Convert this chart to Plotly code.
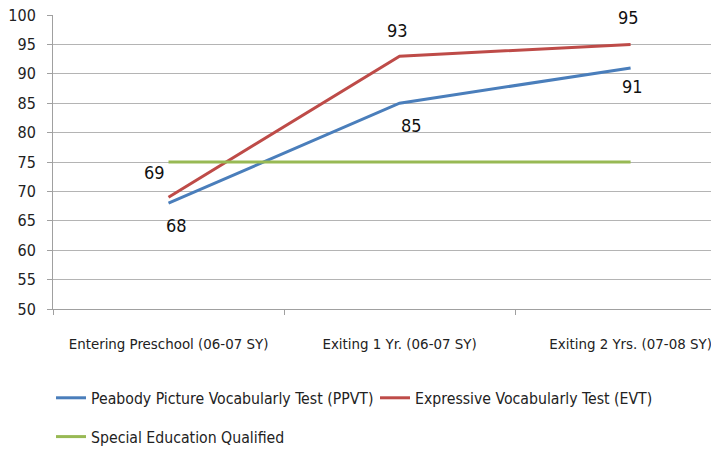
import plotly.graph_objects as go

categories = ["Entering Preschool (06-07 SY)", "Exiting 1 Yr. (06-07 SY)", "Exiting 2 Yrs. (07-08 SY)"]
ppvt = [68, 85, 91]
evt = [69, 93, 95]
sped = [75, 75, 75]

FONT = "DejaVu Sans Condensed, Liberation Sans Narrow, sans-serif"
BLUE = "#4A7EBB"
RED = "#BE4B48"
GREEN = "#98B954"

fig = go.Figure()
fig.add_trace(go.Scatter(x=categories, y=ppvt, mode="lines", name="Peabody Picture Vocabularly Test (PPVT)",
                         line=dict(color=BLUE, width=3), legend="legend"))
fig.add_trace(go.Scatter(x=categories, y=evt, mode="lines", name="Expressive Vocabularly Test (EVT)",
                         line=dict(color=RED, width=3), legend="legend"))
fig.add_trace(go.Scatter(x=categories, y=sped, mode="lines", name="Special Education Qualified",
                         line=dict(color=GREEN, width=3), legend="legend2"))

# label offsets (px) for data labels
evt_off = [(-14, 25), (-2, 26), (-2, 27)]
ppvt_off = [(8, -22), (12, -22), (2, -19)]
annotations = []
for cat, v, (dx, dy) in zip(categories, evt, evt_off):
    annotations.append(dict(x=cat, y=v, text=str(v), showarrow=False, xshift=dx, yshift=dy,
                            font=dict(family=FONT, size=18, color="#111111")))
for cat, v, (dx, dy) in zip(categories, ppvt, ppvt_off):
    annotations.append(dict(x=cat, y=v, text=str(v), showarrow=False, xshift=dx, yshift=dy,
                            font=dict(family=FONT, size=18, color="#111111")))

fig.update_layout(
    width=711, height=450,
    margin=dict(l=53, r=0, t=15, b=141, autoexpand=False),
    paper_bgcolor="white", plot_bgcolor="white",
    font=dict(family=FONT, size=16, color="#222222"),
    annotations=annotations,
    legend=dict(orientation="h", x=-0.003, y=-0.303, xanchor="left", yanchor="middle",
                entrywidth=279, entrywidthmode="pixels", font=dict(size=15.7), bgcolor="rgba(0,0,0,0)"),
    legend2=dict(orientation="h", x=-0.003, y=-0.435, xanchor="left", yanchor="middle",
                 font=dict(size=15.7), bgcolor="rgba(0,0,0,0)"),
    xaxis=dict(type="category", range=[-0.5, 2.348], tickson="boundaries", ticks="outside", ticklen=5,
               tickcolor="#a0a0a0", showline=True, linecolor="#a0a0a0", linewidth=1, showgrid=False,
               zeroline=False, ticklabelstandoff=21, tickfont=dict(size=14.9), automargin=False),
    yaxis=dict(range=[50, 100], dtick=5, tick0=50, ticks="outside", ticklen=5, tickcolor="#a0a0a0",
               showline=True, linecolor="#a0a0a0", linewidth=1, gridcolor="#b4b4b4", gridwidth=1,
               zeroline=False, ticklabelstandoff=8, tickfont=dict(size=16), automargin=False),
)

fig.write_html("out.html", config={"displayModeBar": False},
               post_script="document.body.style.margin='0px';document.body.style.overflow='hidden';")
